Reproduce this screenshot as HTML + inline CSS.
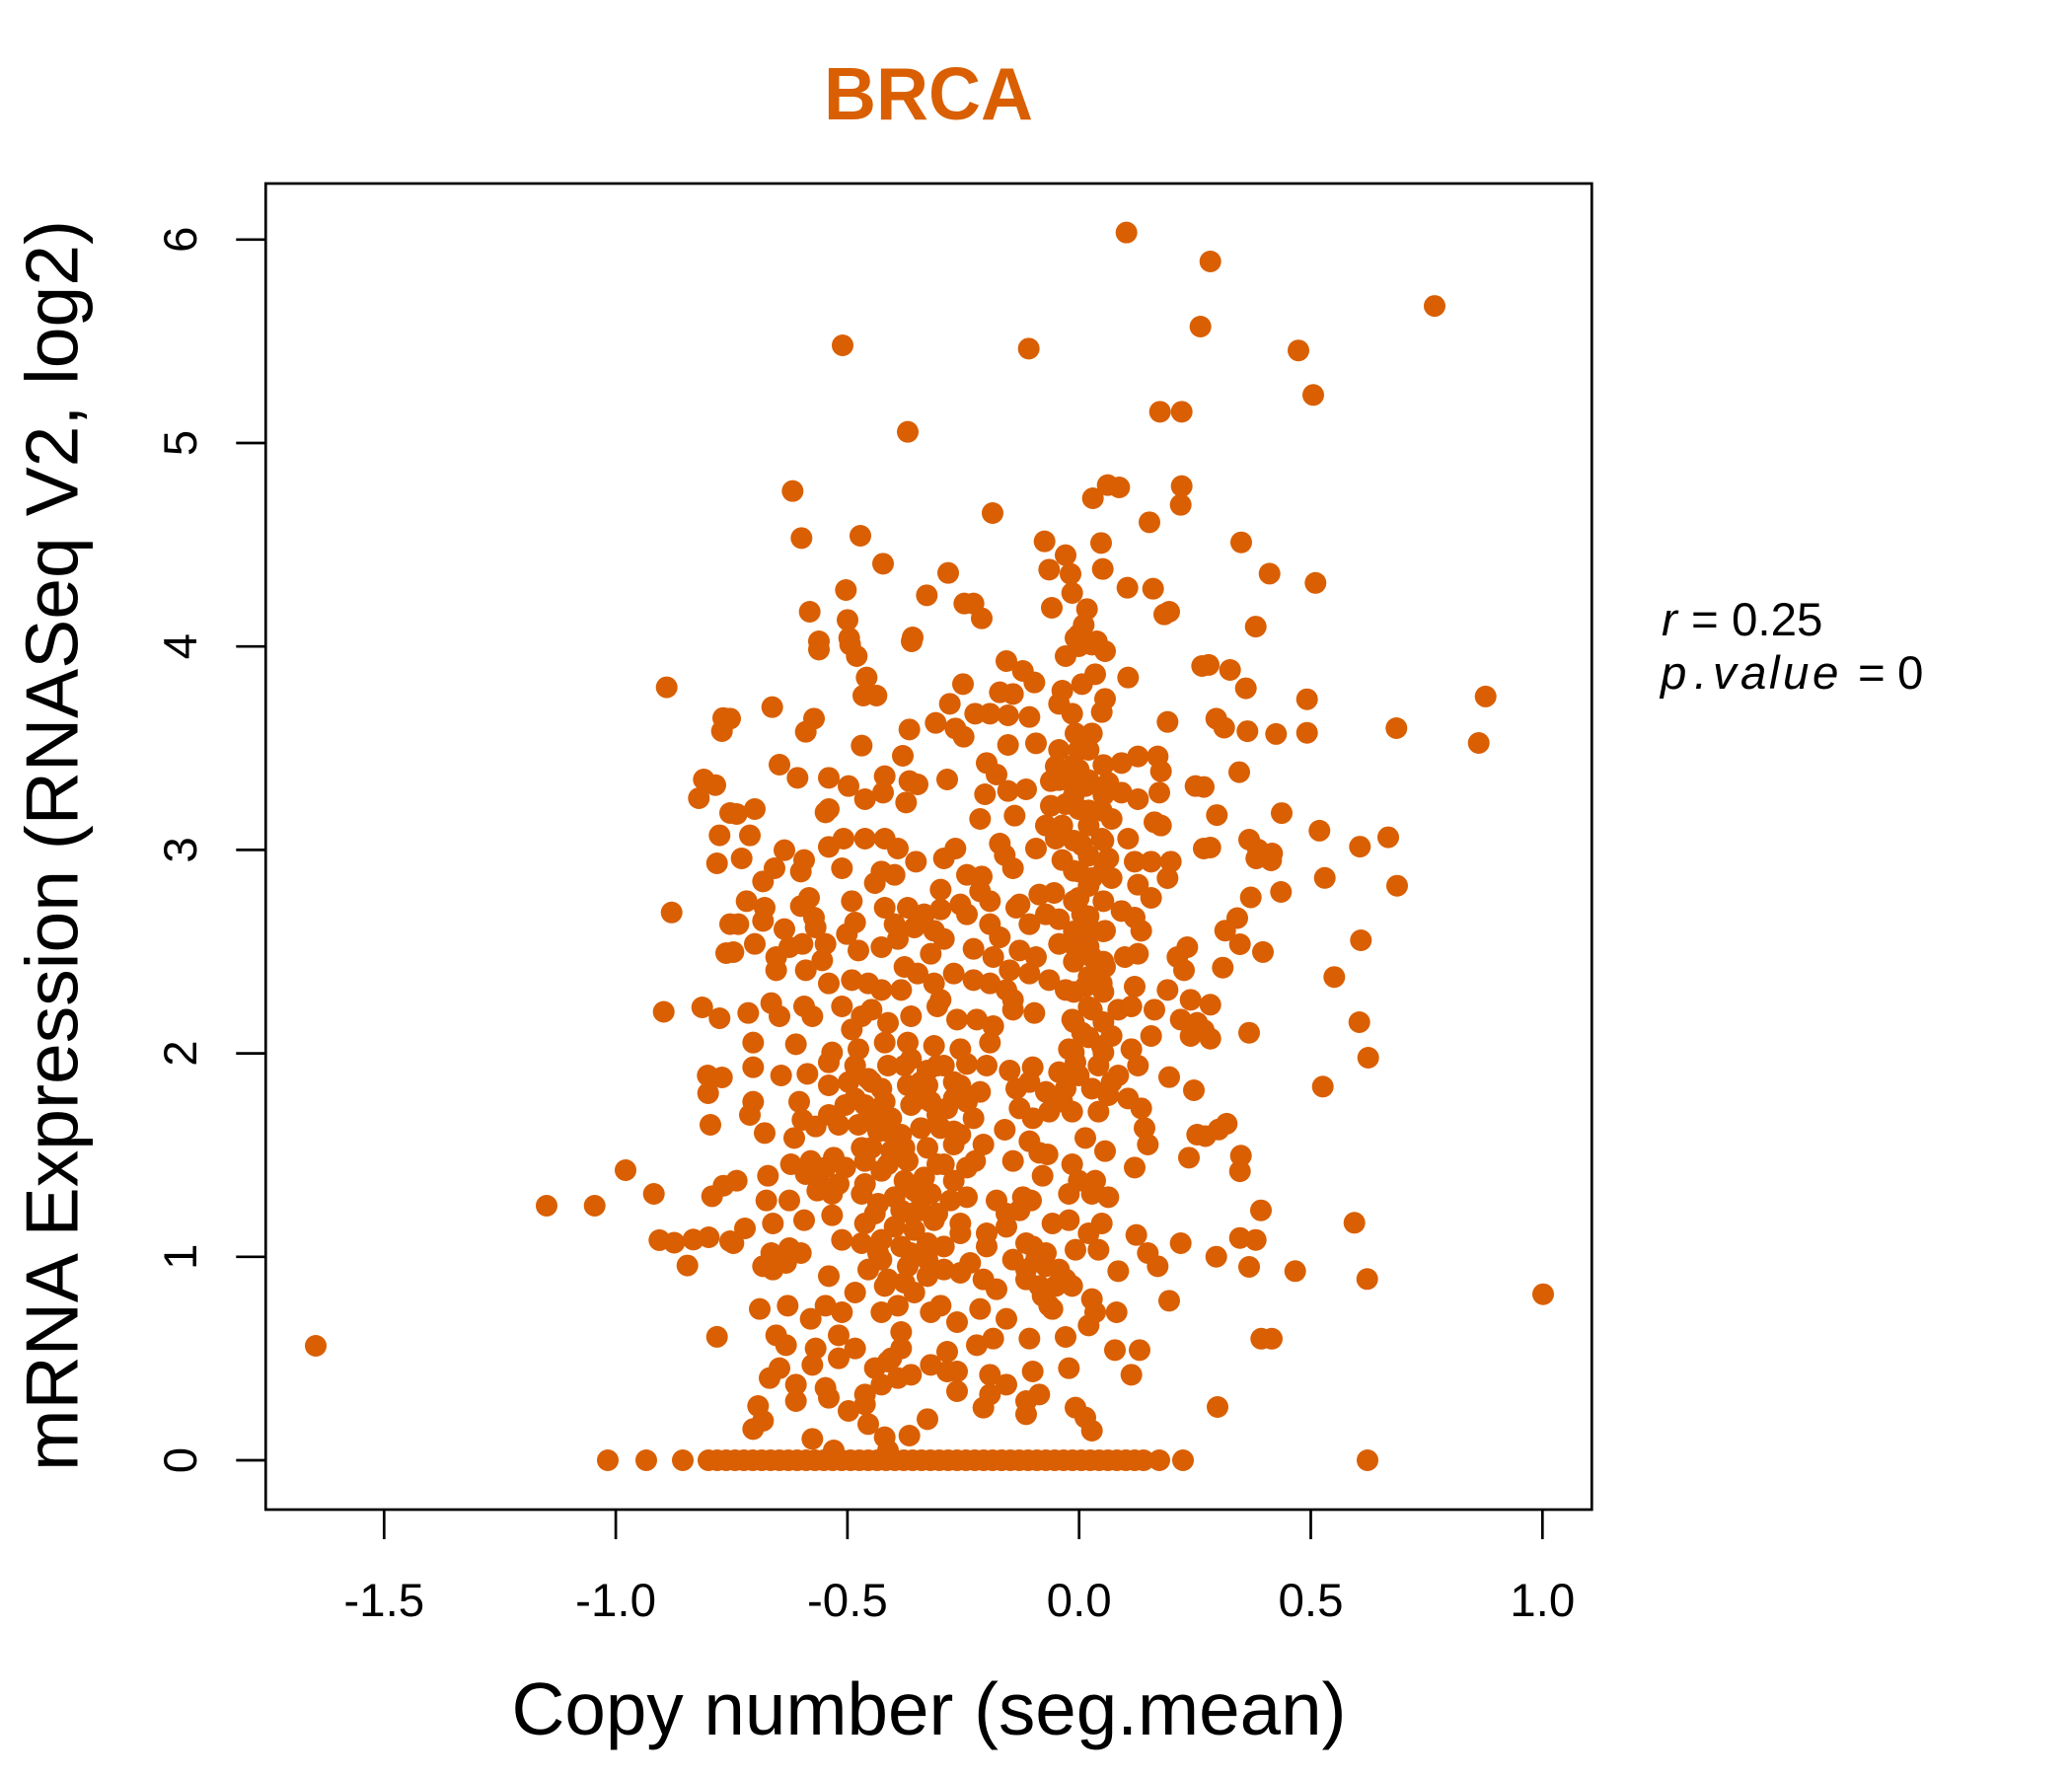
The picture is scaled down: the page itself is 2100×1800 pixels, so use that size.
<!DOCTYPE html>
<html>
<head>
<meta charset="utf-8">
<style>
html,body{margin:0;padding:0;background:#fff;}
svg{display:block;}
text{font-family:"Liberation Sans",Arial,Helvetica,sans-serif;}
</style>
</head>
<body>
<svg width="2100" height="1800" viewBox="0 0 2100 1800" xmlns="http://www.w3.org/2000/svg">
<rect x="0" y="0" width="2100" height="1800" fill="#fff"/>

<!-- Title -->
<text x="941" y="121" text-anchor="middle" font-size="75" font-weight="bold" fill="#D95F02" textLength="212" lengthAdjust="spacingAndGlyphs">BRCA</text>

<!-- Points -->
<g fill="#D95F02">
<!-- zero row -->
<circle cx="616" cy="1480" r="11"/><circle cx="655" cy="1480" r="11"/><circle cx="692" cy="1480" r="11"/>
<circle cx="718" cy="1480" r="11"/><circle cx="727" cy="1480" r="11"/><circle cx="736" cy="1480" r="11"/><circle cx="745" cy="1480" r="11"/><circle cx="754" cy="1480" r="11"/><circle cx="763" cy="1480" r="11"/><circle cx="772" cy="1480" r="11"/><circle cx="781" cy="1480" r="11"/><circle cx="790" cy="1480" r="11"/><circle cx="799" cy="1480" r="11"/><circle cx="808" cy="1480" r="11"/><circle cx="817" cy="1480" r="11"/><circle cx="826" cy="1480" r="11"/><circle cx="835" cy="1480" r="11"/><circle cx="844" cy="1480" r="11"/><circle cx="853" cy="1480" r="11"/><circle cx="862" cy="1480" r="11"/><circle cx="871" cy="1480" r="11"/><circle cx="880" cy="1480" r="11"/><circle cx="889" cy="1480" r="11"/><circle cx="898" cy="1480" r="11"/><circle cx="907" cy="1480" r="11"/><circle cx="916" cy="1480" r="11"/><circle cx="925" cy="1480" r="11"/><circle cx="934" cy="1480" r="11"/><circle cx="943" cy="1480" r="11"/><circle cx="952" cy="1480" r="11"/><circle cx="961" cy="1480" r="11"/><circle cx="970" cy="1480" r="11"/><circle cx="979" cy="1480" r="11"/><circle cx="988" cy="1480" r="11"/><circle cx="997" cy="1480" r="11"/><circle cx="1006" cy="1480" r="11"/><circle cx="1015" cy="1480" r="11"/><circle cx="1024" cy="1480" r="11"/><circle cx="1033" cy="1480" r="11"/><circle cx="1042" cy="1480" r="11"/><circle cx="1051" cy="1480" r="11"/><circle cx="1060" cy="1480" r="11"/><circle cx="1069" cy="1480" r="11"/><circle cx="1078" cy="1480" r="11"/><circle cx="1087" cy="1480" r="11"/><circle cx="1096" cy="1480" r="11"/><circle cx="1105" cy="1480" r="11"/><circle cx="1114" cy="1480" r="11"/><circle cx="1123" cy="1480" r="11"/><circle cx="1132" cy="1480" r="11"/><circle cx="1141" cy="1480" r="11"/><circle cx="1150" cy="1480" r="11"/><circle cx="1159" cy="1480" r="11"/><circle cx="1175" cy="1480" r="11"/><circle cx="1199" cy="1480" r="11"/><circle cx="1386" cy="1480" r="11"/>

<!-- isolated / left -->
<circle cx="320" cy="1364" r="11"/>
<circle cx="675.7" cy="696.6" r="11"/><circle cx="733" cy="727.7" r="11"/><circle cx="731.7" cy="741" r="11"/><circle cx="713.3" cy="790" r="11"/><circle cx="725" cy="795.7" r="11"/><circle cx="708.3" cy="809" r="11"/><circle cx="740" cy="824" r="11"/><circle cx="729.3" cy="846.6" r="11"/><circle cx="726.7" cy="875" r="11"/><circle cx="680.7" cy="924.8" r="11"/><circle cx="740" cy="936.6" r="11"/><circle cx="736" cy="966" r="11"/><circle cx="672.7" cy="1025.5" r="11"/><circle cx="711.7" cy="1021" r="11"/><circle cx="729.3" cy="1032" r="11"/><circle cx="717.3" cy="1090" r="11"/><circle cx="731.7" cy="1092" r="11"/><circle cx="717.7" cy="1108" r="11"/><circle cx="720" cy="1140" r="11"/><circle cx="634" cy="1186" r="11"/><circle cx="662.7" cy="1210" r="11"/><circle cx="554" cy="1222" r="11"/><circle cx="602.7" cy="1222" r="11"/><circle cx="721.7" cy="1212.4" r="11"/><circle cx="733.3" cy="1201.7" r="11"/><circle cx="668.3" cy="1256.9" r="11"/><circle cx="683.3" cy="1259.5" r="11"/><circle cx="702.7" cy="1256.3" r="11"/><circle cx="718.3" cy="1254" r="11"/><circle cx="740" cy="1258" r="11"/><circle cx="696.7" cy="1282.6" r="11"/><circle cx="726.7" cy="1354.9" r="11"/>

<!-- right upper -->
<circle cx="1226.7" cy="265" r="11"/><circle cx="1454" cy="310.1" r="11"/><circle cx="1316" cy="355.2" r="11"/><circle cx="1331" cy="400.3" r="11"/><circle cx="1258" cy="549.7" r="11"/><circle cx="1286.7" cy="581.4" r="11"/><circle cx="1333.3" cy="590.8" r="11"/><circle cx="1272.7" cy="635.1" r="11"/><circle cx="1225" cy="673.9" r="11"/><circle cx="1246.7" cy="679" r="11"/><circle cx="1262.7" cy="697.6" r="11"/><circle cx="1324.7" cy="708.7" r="11"/><circle cx="1505.7" cy="705.9" r="11"/><circle cx="1232.7" cy="728.4" r="11"/><circle cx="1240.7" cy="737.5" r="11"/><circle cx="1264.3" cy="741.1" r="11"/><circle cx="1293.3" cy="743.9" r="11"/><circle cx="1324.7" cy="742.7" r="11"/><circle cx="1415.3" cy="738" r="11"/><circle cx="1498.7" cy="753" r="11"/><circle cx="1256" cy="782.6" r="11"/><circle cx="1220" cy="797.6" r="11"/><circle cx="1233.3" cy="826.1" r="11"/><circle cx="1299" cy="824.1" r="11"/><circle cx="1337.3" cy="841.9" r="11"/><circle cx="1378.3" cy="858.1" r="11"/><circle cx="1407" cy="848.6" r="11"/><circle cx="1226.7" cy="859" r="11"/><circle cx="1266" cy="851" r="11"/><circle cx="1275" cy="861" r="11"/><circle cx="1289.3" cy="865" r="11"/>

<!-- right lower -->
<circle cx="1273.3" cy="870" r="11"/><circle cx="1288.3" cy="872" r="11"/><circle cx="1342.7" cy="889.8" r="11"/><circle cx="1416" cy="897.7" r="11"/><circle cx="1267.7" cy="909.5" r="11"/><circle cx="1298.3" cy="904" r="11"/><circle cx="1254" cy="930.5" r="11"/><circle cx="1241.7" cy="943.2" r="11"/><circle cx="1256.7" cy="957" r="11"/><circle cx="1280" cy="964.9" r="11"/><circle cx="1379.3" cy="953" r="11"/><circle cx="1239.3" cy="980.7" r="11"/><circle cx="1352.3" cy="990.2" r="11"/><circle cx="1226.7" cy="1018.3" r="11"/><circle cx="1226.7" cy="1052.7" r="11"/><circle cx="1220" cy="1044" r="11"/><circle cx="1266" cy="1046.7" r="11"/><circle cx="1377.7" cy="1036" r="11"/><circle cx="1386.7" cy="1072" r="11"/><circle cx="1340.7" cy="1101.3" r="11"/><circle cx="1243.3" cy="1138.9" r="11"/><circle cx="1235" cy="1144.8" r="11"/><circle cx="1221.7" cy="1151.5" r="11"/><circle cx="1257.7" cy="1171.3" r="11"/><circle cx="1256.7" cy="1187.1" r="11"/><circle cx="1278" cy="1226.7" r="11"/><circle cx="1372.7" cy="1239.3" r="11"/><circle cx="1256.7" cy="1254.7" r="11"/><circle cx="1272.7" cy="1256.7" r="11"/><circle cx="1232.7" cy="1273.7" r="11"/><circle cx="1266" cy="1284" r="11"/><circle cx="1312.7" cy="1288.3" r="11"/><circle cx="1385.7" cy="1296.3" r="11"/><circle cx="1564" cy="1311.7" r="11"/><circle cx="1278.3" cy="1356.8" r="11"/><circle cx="1289" cy="1356.8" r="11"/><circle cx="1234" cy="1426" r="11"/>

<!-- top middle (zoom 9 coords) -->
<g transform="translate(740 220) scale(0.333333)">
<circle cx="1205" cy="47" r="33"/><circle cx="342" cy="390" r="33"/><circle cx="908" cy="400" r="33"/><circle cx="1430" cy="333" r="33"/><circle cx="1307" cy="592" r="33"/><circle cx="1373" cy="592" r="33"/><circle cx="540" cy="653" r="33"/><circle cx="190" cy="833" r="33"/><circle cx="1103" cy="855" r="33"/><circle cx="1148" cy="815" r="33"/><circle cx="1183" cy="822" r="33"/><circle cx="1373" cy="818" r="33"/><circle cx="1370" cy="875" r="33"/><circle cx="798" cy="900" r="33"/><circle cx="1275" cy="928" r="33"/><circle cx="217" cy="976" r="33"/><circle cx="396" cy="969" r="33"/><circle cx="465" cy="1054" r="33"/><circle cx="956" cy="986" r="33"/><circle cx="1128" cy="991" r="33"/><circle cx="1020" cy="1028" r="33"/><circle cx="970" cy="1072" r="33"/><circle cx="1035" cy="1085" r="33"/><circle cx="1133" cy="1070" r="33"/><circle cx="1208" cy="1127" r="33"/><circle cx="1286" cy="1130" r="33"/><circle cx="663" cy="1082" r="33"/><circle cx="598" cy="1150" r="33"/><circle cx="352" cy="1134" r="33"/><circle cx="242" cy="1200" r="33"/><circle cx="357" cy="1225" r="33"/><circle cx="712" cy="1175" r="33"/><circle cx="740" cy="1175" r="33"/><circle cx="765" cy="1220" r="33"/><circle cx="1040" cy="1143" r="33"/><circle cx="978" cy="1188" r="33"/><circle cx="1085" cy="1192" r="33"/><circle cx="1075" cy="1240" r="33"/><circle cx="1060" cy="1270" r="33"/><circle cx="1335" cy="1200" r="33"/><circle cx="1320" cy="1208" r="33"/><circle cx="270" cy="1290" r="33"/><circle cx="362" cy="1280" r="33"/><circle cx="555" cy="1278" r="33"/><circle cx="1050" cy="1280" r="33"/><circle cx="1115" cy="1290" r="33"/>
</g>

<!-- core upper (zoom 7 coords) -->
<g transform="translate(740 650) scale(0.333333)">
<circle cx="270" cy="25" r="33"/><circle cx="365" cy="10" r="33"/><circle cx="385" cy="45" r="33"/><circle cx="552" cy="0" r="33"/><circle cx="840" cy="60" r="33"/><circle cx="1020" cy="45" r="33"/><circle cx="1060" cy="15" r="33"/><circle cx="1140" cy="30" r="33"/><circle cx="1100" cy="10" r="33"/><circle cx="1435" cy="75" r="33"/>
<circle cx="415" cy="110" r="33"/><circle cx="405" cy="165" r="33"/><circle cx="445" cy="165" r="33"/><circle cx="708" cy="130" r="33"/><circle cx="890" cy="90" r="33"/><circle cx="925" cy="125" r="33"/><circle cx="1110" cy="100" r="33"/><circle cx="1210" cy="110" r="33"/><circle cx="1010" cy="150" r="33"/><circle cx="1000" cy="190" r="33"/><circle cx="1070" cy="130" r="33"/><circle cx="668" cy="190" r="33"/><circle cx="820" cy="155" r="33"/><circle cx="860" cy="160" r="33"/><circle cx="1140" cy="175" r="33"/>
<circle cx="128" cy="200" r="33"/><circle cx="255" cy="235" r="33"/><circle cx="230" cy="275" r="33"/><circle cx="0" cy="235" r="33"/><circle cx="545" cy="268" r="33"/><circle cx="625" cy="248" r="33"/><circle cx="710" cy="290" r="33"/><circle cx="685" cy="265" r="33"/><circle cx="745" cy="220" r="33"/><circle cx="790" cy="220" r="33"/><circle cx="845" cy="225" r="33"/><circle cx="910" cy="230" r="33"/><circle cx="930" cy="310" r="33"/><circle cx="1040" cy="220" r="33"/><circle cx="1050" cy="280" r="33"/><circle cx="1100" cy="280" r="33"/><circle cx="1130" cy="215" r="33"/><circle cx="1330" cy="245" r="33"/><circle cx="845" cy="315" r="33"/>
<circle cx="400" cy="317" r="33"/><circle cx="525" cy="348" r="33"/><circle cx="150" cy="375" r="33"/><circle cx="780" cy="370" r="33"/><circle cx="1060" cy="330" r="33"/><circle cx="1060" cy="390" r="33"/><circle cx="990" cy="380" r="33"/><circle cx="1190" cy="370" r="33"/><circle cx="1240" cy="350" r="33"/><circle cx="1300" cy="350" r="33"/><circle cx="1310" cy="395" r="33"/>
<circle cx="205" cy="415" r="33"/><circle cx="300" cy="415" r="33"/><circle cx="360" cy="440" r="33"/><circle cx="410" cy="480" r="33"/><circle cx="470" cy="410" r="33"/><circle cx="465" cy="460" r="33"/><circle cx="545" cy="425" r="33"/><circle cx="570" cy="435" r="33"/><circle cx="535" cy="490" r="33"/><circle cx="660" cy="420" r="33"/><circle cx="810" cy="405" r="33"/><circle cx="775" cy="465" r="33"/><circle cx="845" cy="455" r="33"/><circle cx="900" cy="450" r="33"/><circle cx="975" cy="425" r="33"/><circle cx="1020" cy="420" r="33"/><circle cx="1080" cy="440" r="33"/><circle cx="1150" cy="430" r="33"/><circle cx="1190" cy="460" r="33"/><circle cx="1240" cy="480" r="33"/><circle cx="1305" cy="460" r="33"/><circle cx="1415" cy="440" r="33"/>
<circle cx="75" cy="510" r="33"/><circle cx="20" cy="525" r="33"/><circle cx="300" cy="510" r="33"/><circle cx="290" cy="520" r="33"/><circle cx="760" cy="540" r="33"/><circle cx="865" cy="530" r="33"/><circle cx="975" cy="500" r="33"/><circle cx="1020" cy="495" r="33"/><circle cx="1060" cy="510" r="33"/><circle cx="1130" cy="515" r="33"/><circle cx="1160" cy="540" r="33"/><circle cx="960" cy="560" r="33"/><circle cx="1010" cy="560" r="33"/><circle cx="1090" cy="560" r="33"/><circle cx="1290" cy="550" r="33"/><circle cx="1310" cy="560" r="33"/><circle cx="60" cy="590" r="33"/>
<circle cx="35" cy="660" r="33"/><circle cx="165" cy="635" r="33"/><circle cx="135" cy="690" r="33"/><circle cx="225" cy="665" r="33"/><circle cx="215" cy="700" r="33"/><circle cx="300" cy="625" r="33"/><circle cx="345" cy="600" r="33"/><circle cx="410" cy="600" r="33"/><circle cx="470" cy="600" r="33"/><circle cx="510" cy="630" r="33"/><circle cx="565" cy="670" r="33"/><circle cx="460" cy="700" r="33"/><circle cx="340" cy="690" r="33"/><circle cx="650" cy="660" r="33"/><circle cx="685" cy="630" r="33"/><circle cx="820" cy="615" r="33"/><circle cx="835" cy="650" r="33"/><circle cx="860" cy="690" r="33"/><circle cx="930" cy="630" r="33"/><circle cx="990" cy="600" r="33"/><circle cx="1010" cy="665" r="33"/><circle cx="1070" cy="620" r="33"/><circle cx="1130" cy="600" r="33"/><circle cx="1210" cy="600" r="33"/><circle cx="1150" cy="660" r="33"/><circle cx="1230" cy="670" r="33"/><circle cx="1280" cy="670" r="33"/><circle cx="1340" cy="670" r="33"/><circle cx="1440" cy="630" r="33"/>
<circle cx="100" cy="730" r="33"/><circle cx="50" cy="790" r="33"/><circle cx="105" cy="810" r="33"/><circle cx="240" cy="780" r="33"/><circle cx="215" cy="805" r="33"/><circle cx="370" cy="790" r="33"/><circle cx="440" cy="735" r="33"/><circle cx="500" cy="710" r="33"/><circle cx="640" cy="755" r="33"/><circle cx="720" cy="710" r="33"/><circle cx="765" cy="715" r="33"/><circle cx="760" cy="760" r="33"/><circle cx="700" cy="800" r="33"/><circle cx="790" cy="790" r="33"/><circle cx="880" cy="800" r="33"/><circle cx="940" cy="770" r="33"/><circle cx="985" cy="765" r="33"/><circle cx="1060" cy="700" r="33"/><circle cx="1100" cy="720" r="33"/><circle cx="1160" cy="720" r="33"/><circle cx="1240" cy="740" r="33"/><circle cx="1280" cy="780" r="33"/><circle cx="1330" cy="720" r="33"/><circle cx="1060" cy="780" r="33"/>
<circle cx="25" cy="860" r="33"/><circle cx="100" cy="850" r="33"/><circle cx="165" cy="875" r="33"/><circle cx="255" cy="840" r="33"/><circle cx="260" cy="870" r="33"/><circle cx="380" cy="855" r="33"/><circle cx="355" cy="890" r="33"/><circle cx="470" cy="810" r="33"/><circle cx="540" cy="810" r="33"/><circle cx="590" cy="830" r="33"/><circle cx="640" cy="815" r="33"/><circle cx="500" cy="860" r="33"/><circle cx="560" cy="870" r="33"/><circle cx="620" cy="880" r="33"/><circle cx="720" cy="830" r="33"/><circle cx="790" cy="860" r="33"/><circle cx="820" cy="900" r="33"/><circle cx="870" cy="810" r="33"/><circle cx="910" cy="860" r="33"/><circle cx="960" cy="830" r="33"/><circle cx="1000" cy="845" r="33"/><circle cx="1070" cy="830" r="33"/><circle cx="1100" cy="880" r="33"/><circle cx="1190" cy="820" r="33"/><circle cx="1230" cy="840" r="33"/><circle cx="1250" cy="880" r="33"/><circle cx="1140" cy="880" r="33"/>
<circle cx="10" cy="945" r="33"/><circle cx="75" cy="920" r="33"/><circle cx="140" cy="960" r="33"/><circle cx="180" cy="930" r="33"/><circle cx="220" cy="920" r="33"/><circle cx="290" cy="920" r="33"/><circle cx="280" cy="970" r="33"/><circle cx="390" cy="940" r="33"/><circle cx="460" cy="930" r="33"/><circle cx="510" cy="905" r="33"/><circle cx="650" cy="905" r="33"/><circle cx="610" cy="950" r="33"/><circle cx="530" cy="990" r="33"/><circle cx="740" cy="935" r="33"/><circle cx="800" cy="960" r="33"/><circle cx="880" cy="940" r="33"/><circle cx="930" cy="960" r="33"/><circle cx="1000" cy="920" r="33"/><circle cx="1050" cy="930" r="33"/><circle cx="1100" cy="960" r="33"/><circle cx="1140" cy="990" r="33"/><circle cx="1200" cy="960" r="33"/><circle cx="1240" cy="950" r="33"/><circle cx="1360" cy="960" r="33"/><circle cx="1390" cy="930" r="33"/><circle cx="1380" cy="1000" r="33"/>
<circle cx="140" cy="1000" r="33"/><circle cx="230" cy="1000" r="33"/><circle cx="300" cy="1040" r="33"/><circle cx="370" cy="1030" r="33"/><circle cx="420" cy="1040" r="33"/><circle cx="460" cy="1060" r="33"/><circle cx="520" cy="1060" r="33"/><circle cx="570" cy="1010" r="33"/><circle cx="620" cy="1040" r="33"/><circle cx="680" cy="1010" r="33"/><circle cx="740" cy="1030" r="33"/><circle cx="790" cy="1040" r="33"/><circle cx="850" cy="1000" r="33"/><circle cx="840" cy="1060" r="33"/><circle cx="910" cy="1010" r="33"/><circle cx="970" cy="1030" r="33"/><circle cx="1020" cy="1060" r="33"/><circle cx="1080" cy="1050" r="33"/><circle cx="1130" cy="1040" r="33"/><circle cx="1230" cy="1050" r="33"/><circle cx="1330" cy="1060" r="33"/><circle cx="1400" cy="1090" r="33"/><circle cx="860" cy="1090" r="33"/><circle cx="640" cy="1090" r="33"/>
<circle cx="55" cy="1130" r="33"/><circle cx="125" cy="1100" r="33"/><circle cx="150" cy="1140" r="33"/><circle cx="225" cy="1110" r="33"/><circle cx="250" cy="1140" r="33"/><circle cx="340" cy="1110" r="33"/><circle cx="400" cy="1140" r="33"/><circle cx="430" cy="1120" r="33"/><circle cx="370" cy="1180" r="33"/><circle cx="480" cy="1160" r="33"/><circle cx="550" cy="1140" r="33"/><circle cx="630" cy="1110" r="33"/><circle cx="690" cy="1150" r="33"/><circle cx="750" cy="1150" r="33"/><circle cx="800" cy="1170" r="33"/><circle cx="860" cy="1120" r="33"/><circle cx="925" cy="1130" r="33"/><circle cx="1040" cy="1150" r="33"/><circle cx="1100" cy="1120" r="33"/><circle cx="1180" cy="1120" r="33"/><circle cx="1220" cy="1110" r="33"/><circle cx="1290" cy="1120" r="33"/><circle cx="1370" cy="1150" r="33"/><circle cx="1420" cy="1160" r="33"/><circle cx="1070" cy="1190" r="33"/><circle cx="1160" cy="1200" r="33"/><circle cx="1280" cy="1200" r="33"/>
<circle cx="70" cy="1220" r="33"/><circle cx="200" cy="1225" r="33"/><circle cx="310" cy="1250" r="33"/><circle cx="390" cy="1240" r="33"/><circle cx="470" cy="1220" r="33"/><circle cx="540" cy="1220" r="33"/><circle cx="620" cy="1230" r="33"/><circle cx="700" cy="1240" r="33"/><circle cx="790" cy="1220" r="33"/><circle cx="1030" cy="1240" r="33"/><circle cx="1130" cy="1230" r="33"/><circle cx="1220" cy="1240" r="33"/><circle cx="1400" cy="1200" r="33"/>
<!-- vertical band fill near x=0 (thinned) -->
<circle cx="1000" cy="330" r="33"/><circle cx="1090" cy="330" r="33"/>
<circle cx="1045" cy="376" r="33"/><circle cx="1135" cy="376" r="33"/>
<circle cx="1000" cy="422" r="33"/><circle cx="1090" cy="422" r="33"/>
<circle cx="1045" cy="468" r="33"/><circle cx="1135" cy="468" r="33"/>
<circle cx="1090" cy="514" r="33"/>
<circle cx="1045" cy="606" r="33"/><circle cx="1135" cy="606" r="33"/>
<circle cx="1090" cy="652" r="33"/>
<circle cx="1045" cy="698" r="33"/><circle cx="1135" cy="698" r="33"/>
<circle cx="1090" cy="744" r="33"/>
<circle cx="1045" cy="790" r="33"/><circle cx="1135" cy="790" r="33"/>
<circle cx="1090" cy="836" r="33"/>
<circle cx="1045" cy="882" r="33"/><circle cx="1135" cy="882" r="33"/>
<circle cx="1090" cy="928" r="33"/>
<circle cx="1045" cy="974" r="33"/><circle cx="1135" cy="974" r="33"/>
<circle cx="1090" cy="1020" r="33"/>
<circle cx="1045" cy="1066" r="33"/><circle cx="1135" cy="1066" r="33"/>
<circle cx="1090" cy="1112" r="33"/>
<circle cx="1045" cy="1158" r="33"/><circle cx="1135" cy="1158" r="33"/>
<circle cx="1090" cy="1204" r="33"/>
<circle cx="1045" cy="1250" r="33"/><circle cx="1135" cy="1250" r="33"/>
</g>

<!-- core lower (zoom 8 coords) -->
<g transform="translate(740 1070) scale(0.333333)">
<circle cx="70" cy="35" r="33"/><circle cx="155" cy="60" r="33"/><circle cx="235" cy="55" r="33"/><circle cx="300" cy="20" r="33"/><circle cx="300" cy="90" r="33"/><circle cx="380" cy="30" r="33"/><circle cx="420" cy="70" r="33"/><circle cx="480" cy="30" r="33"/><circle cx="550" cy="10" r="33"/><circle cx="600" cy="45" r="33"/><circle cx="650" cy="30" r="33"/><circle cx="720" cy="25" r="33"/><circle cx="780" cy="30" r="33"/><circle cx="850" cy="45" r="33"/><circle cx="920" cy="35" r="33"/><circle cx="1000" cy="50" r="33"/><circle cx="1050" cy="20" r="33"/><circle cx="1120" cy="30" r="33"/><circle cx="1180" cy="60" r="33"/><circle cx="1240" cy="30" r="33"/><circle cx="1335" cy="65" r="33"/><circle cx="1410" cy="105" r="33"/><circle cx="360" cy="80" r="33"/><circle cx="460" cy="100" r="33"/><circle cx="540" cy="90" r="33"/><circle cx="600" cy="90" r="33"/><circle cx="700" cy="90" r="33"/><circle cx="760" cy="110" r="33"/><circle cx="870" cy="100" r="33"/><circle cx="960" cy="110" r="33"/><circle cx="1020" cy="100" r="33"/><circle cx="1100" cy="100" r="33"/><circle cx="1150" cy="120" r="33"/>
<circle cx="70" cy="140" r="33"/><circle cx="60" cy="180" r="33"/><circle cx="210" cy="140" r="33"/><circle cx="220" cy="195" r="33"/><circle cx="300" cy="180" r="33"/><circle cx="350" cy="150" r="33"/><circle cx="410" cy="150" r="33"/><circle cx="470" cy="140" r="33"/><circle cx="490" cy="190" r="33"/><circle cx="550" cy="150" r="33"/><circle cx="610" cy="140" r="33"/><circle cx="660" cy="160" r="33"/><circle cx="720" cy="140" r="33"/><circle cx="740" cy="190" r="33"/><circle cx="880" cy="160" r="33"/><circle cx="920" cy="190" r="33"/><circle cx="970" cy="170" r="33"/><circle cx="1040" cy="170" r="33"/><circle cx="1120" cy="170" r="33"/><circle cx="1210" cy="130" r="33"/><circle cx="1250" cy="160" r="33"/>
<circle cx="105" cy="235" r="33"/><circle cx="195" cy="250" r="33"/><circle cx="260" cy="215" r="33"/><circle cx="330" cy="210" r="33"/><circle cx="390" cy="210" r="33"/><circle cx="450" cy="230" r="33"/><circle cx="520" cy="240" r="33"/><circle cx="580" cy="220" r="33"/><circle cx="640" cy="220" r="33"/><circle cx="700" cy="240" r="33"/><circle cx="770" cy="270" r="33"/><circle cx="835" cy="225" r="33"/><circle cx="910" cy="260" r="33"/><circle cx="940" cy="295" r="33"/><circle cx="1080" cy="250" r="33"/><circle cx="1140" cy="290" r="33"/><circle cx="1270" cy="270" r="33"/><circle cx="1260" cy="220" r="33"/><circle cx="1420" cy="240" r="33"/><circle cx="600" cy="280" r="33"/><circle cx="680" cy="270" r="33"/><circle cx="400" cy="280" r="33"/><circle cx="490" cy="290" r="33"/>
<circle cx="20" cy="380" r="33"/><circle cx="115" cy="365" r="33"/><circle cx="185" cy="330" r="33"/><circle cx="245" cy="320" r="33"/><circle cx="290" cy="340" r="33"/><circle cx="315" cy="310" r="33"/><circle cx="350" cy="340" r="33"/><circle cx="410" cy="320" r="33"/><circle cx="460" cy="350" r="33"/><circle cx="540" cy="320" r="33"/><circle cx="590" cy="370" r="33"/><circle cx="650" cy="330" r="33"/><circle cx="720" cy="340" r="33"/><circle cx="745" cy="320" r="33"/><circle cx="860" cy="320" r="33"/><circle cx="950" cy="365" r="33"/><circle cx="965" cy="300" r="33"/><circle cx="1040" cy="330" r="33"/><circle cx="1060" cy="380" r="33"/><circle cx="1110" cy="380" r="33"/><circle cx="1230" cy="340" r="33"/><circle cx="1395" cy="310" r="33"/><circle cx="270" cy="380" r="33"/><circle cx="410" cy="390" r="33"/>
<circle cx="110" cy="440" r="33"/><circle cx="180" cy="440" r="33"/><circle cx="265" cy="410" r="33"/><circle cx="310" cy="420" r="33"/><circle cx="400" cy="420" r="33"/><circle cx="450" cy="450" r="33"/><circle cx="500" cy="430" r="33"/><circle cx="560" cy="410" r="33"/><circle cx="610" cy="420" r="33"/><circle cx="670" cy="440" r="33"/><circle cx="720" cy="430" r="33"/><circle cx="810" cy="440" r="33"/><circle cx="890" cy="430" r="33"/><circle cx="915" cy="440" r="33"/><circle cx="1030" cy="420" r="33"/><circle cx="1100" cy="420" r="33"/><circle cx="1150" cy="430" r="33"/><circle cx="130" cy="510" r="33"/><circle cx="225" cy="500" r="33"/><circle cx="310" cy="485" r="33"/><circle cx="440" cy="480" r="33"/><circle cx="520" cy="470" r="33"/><circle cx="580" cy="470" r="33"/><circle cx="630" cy="480" r="33"/><circle cx="700" cy="510" r="33"/><circle cx="840" cy="480" r="33"/><circle cx="880" cy="470" r="33"/>
<circle cx="45" cy="525" r="33"/><circle cx="10" cy="570" r="33"/><circle cx="125" cy="600" r="33"/><circle cx="180" cy="585" r="33"/><circle cx="215" cy="600" r="33"/><circle cx="340" cy="560" r="33"/><circle cx="410" cy="510" r="33"/><circle cx="500" cy="520" r="33"/><circle cx="560" cy="530" r="33"/><circle cx="620" cy="500" r="33"/><circle cx="700" cy="540" r="33"/><circle cx="780" cy="540" r="33"/><circle cx="840" cy="520" r="33"/><circle cx="980" cy="510" r="33"/><circle cx="1030" cy="500" r="33"/><circle cx="1130" cy="510" r="33"/><circle cx="1090" cy="540" r="33"/><circle cx="1235" cy="545" r="33"/><circle cx="1370" cy="570" r="33"/><circle cx="400" cy="570" r="33"/><circle cx="460" cy="560" r="33"/><circle cx="520" cy="580" r="33"/><circle cx="600" cy="570" r="33"/><circle cx="650" cy="580" r="33"/><circle cx="920" cy="580" r="33"/><circle cx="960" cy="600" r="33"/><circle cx="1050" cy="590" r="33"/><circle cx="1120" cy="590" r="33"/><circle cx="1270" cy="600" r="33"/><circle cx="780" cy="580" r="33"/><circle cx="900" cy="570" r="33"/>
<circle cx="100" cy="640" r="33"/><circle cx="130" cy="650" r="33"/><circle cx="170" cy="630" r="33"/><circle cx="300" cy="670" r="33"/><circle cx="420" cy="650" r="33"/><circle cx="460" cy="620" r="33"/><circle cx="480" cy="680" r="33"/><circle cx="540" cy="640" r="33"/><circle cx="600" cy="620" r="33"/><circle cx="650" cy="650" r="33"/><circle cx="700" cy="660" r="33"/><circle cx="730" cy="630" r="33"/><circle cx="770" cy="680" r="33"/><circle cx="860" cy="620" r="33"/><circle cx="900" cy="650" r="33"/><circle cx="960" cy="640" r="33"/><circle cx="1000" cy="650" r="33"/><circle cx="1020" cy="680" r="33"/><circle cx="1180" cy="655" r="33"/><circle cx="1300" cy="640" r="33"/><circle cx="470" cy="700" r="33"/><circle cx="530" cy="690" r="33"/><circle cx="560" cy="720" r="33"/><circle cx="900" cy="680" r="33"/><circle cx="940" cy="700" r="33"/>
<circle cx="90" cy="770" r="33"/><circle cx="175" cy="760" r="33"/><circle cx="245" cy="800" r="33"/><circle cx="290" cy="760" r="33"/><circle cx="340" cy="780" r="33"/><circle cx="380" cy="720" r="33"/><circle cx="460" cy="780" r="33"/><circle cx="510" cy="760" r="33"/><circle cx="610" cy="780" r="33"/><circle cx="640" cy="760" r="33"/><circle cx="690" cy="810" r="33"/><circle cx="760" cy="770" r="33"/><circle cx="810" cy="710" r="33"/><circle cx="840" cy="800" r="33"/><circle cx="950" cy="730" r="33"/><circle cx="980" cy="770" r="33"/><circle cx="1040" cy="700" r="33"/><circle cx="1100" cy="740" r="33"/><circle cx="1110" cy="780" r="33"/><circle cx="1175" cy="780" r="33"/><circle cx="1335" cy="745" r="33"/>
<circle cx="140" cy="850" r="33"/><circle cx="170" cy="880" r="33"/><circle cx="260" cy="890" r="33"/><circle cx="330" cy="850" r="33"/><circle cx="380" cy="890" r="33"/><circle cx="330" cy="920" r="33"/><circle cx="520" cy="840" r="33"/><circle cx="520" cy="890" r="33"/><circle cx="490" cy="920" r="33"/><circle cx="660" cy="900" r="33"/><circle cx="750" cy="880" r="33"/><circle cx="800" cy="860" r="33"/><circle cx="910" cy="860" r="33"/><circle cx="1020" cy="855" r="33"/><circle cx="1090" cy="820" r="33"/><circle cx="1170" cy="895" r="33"/><circle cx="1245" cy="895" r="33"/>
<circle cx="150" cy="950" r="33"/><circle cx="120" cy="980" r="33"/><circle cx="250" cy="940" r="33"/><circle cx="440" cy="950" r="33"/><circle cx="480" cy="930" r="33"/><circle cx="510" cy="980" r="33"/><circle cx="550" cy="970" r="33"/><circle cx="610" cy="940" r="33"/><circle cx="660" cy="960" r="33"/><circle cx="690" cy="960" r="33"/><circle cx="790" cy="970" r="33"/><circle cx="840" cy="1000" r="33"/><circle cx="920" cy="960" r="33"/><circle cx="1030" cy="950" r="33"/><circle cx="1220" cy="970" r="33"/><circle cx="200" cy="1000" r="33"/>
<circle cx="200" cy="1050" r="33"/><circle cx="290" cy="1010" r="33"/><circle cx="300" cy="1040" r="33"/><circle cx="410" cy="1030" r="33"/><circle cx="460" cy="1000" r="33"/><circle cx="410" cy="1060" r="33"/><circle cx="360" cy="1080" r="33"/><circle cx="690" cy="1020" r="33"/><circle cx="790" cy="1030" r="33"/><circle cx="770" cy="1070" r="33"/><circle cx="900" cy="1050" r="33"/><circle cx="940" cy="1030" r="33"/><circle cx="900" cy="1090" r="33"/><circle cx="1050" cy="1070" r="33"/><circle cx="1080" cy="1100" r="33"/><circle cx="85" cy="1065" r="33"/><circle cx="100" cy="1110" r="33"/><circle cx="70" cy="1135" r="33"/>
<circle cx="250" cy="1165" r="33"/><circle cx="420" cy="1120" r="33"/><circle cx="470" cy="1160" r="33"/><circle cx="545" cy="1155" r="33"/><circle cx="600" cy="1105" r="33"/><circle cx="1100" cy="1140" r="33"/><circle cx="315" cy="1200" r="33"/><circle cx="480" cy="1200" r="33"/>
<!-- fill A (thinned) -->
<circle cx="530" cy="30" r="33"/><circle cx="630" cy="30" r="33"/>
<circle cx="430" cy="80" r="33"/><circle cx="580" cy="80" r="33"/><circle cx="680" cy="80" r="33"/>
<circle cx="380" cy="130" r="33"/><circle cx="580" cy="130" r="33"/><circle cx="680" cy="130" r="33"/>
<circle cx="430" cy="180" r="33"/><circle cx="630" cy="180" r="33"/>
<circle cx="480" cy="230" r="33"/><circle cx="680" cy="230" r="33"/>
<circle cx="430" cy="280" r="33"/><circle cx="530" cy="280" r="33"/>
<circle cx="480" cy="330" r="33"/><circle cx="630" cy="330" r="33"/>
<circle cx="530" cy="380" r="33"/><circle cx="680" cy="380" r="33"/>
<circle cx="580" cy="430" r="33"/>
<!-- fill B (thinned) -->
<circle cx="550" cy="480" r="33"/><circle cx="450" cy="600" r="33"/><circle cx="550" cy="600" r="33"/><circle cx="600" cy="670" r="33"/>
<!-- fill C -->
<circle cx="910" cy="80" r="33"/><circle cx="1060" cy="60" r="33"/><circle cx="1160" cy="80" r="33"/>
<circle cx="1010" cy="140" r="33"/>
<!-- fill D diagonal -->
<circle cx="930" cy="620" r="33"/><circle cx="990" cy="700" r="33"/><circle cx="970" cy="760" r="33"/>
<!-- fill E -->
<circle cx="230" cy="360" r="33"/><circle cx="330" cy="390" r="33"/>
</g>
</g>

<!-- Axes box -->
<rect x="269.3" y="186" width="1344" height="1344" fill="none" stroke="#000" stroke-width="2.7"/>

<!-- X ticks -->
<g stroke="#000" stroke-width="2.7">
<line x1="389.3" y1="1530" x2="389.3" y2="1560"/>
<line x1="624.1" y1="1530" x2="624.1" y2="1560"/>
<line x1="858.9" y1="1530" x2="858.9" y2="1560"/>
<line x1="1093.7" y1="1530" x2="1093.7" y2="1560"/>
<line x1="1328.5" y1="1530" x2="1328.5" y2="1560"/>
<line x1="1563.3" y1="1530" x2="1563.3" y2="1560"/>
<!-- Y ticks -->
<line x1="239.3" y1="1480" x2="269.3" y2="1480"/>
<line x1="239.3" y1="1273.8" x2="269.3" y2="1273.8"/>
<line x1="239.3" y1="1067.6" x2="269.3" y2="1067.6"/>
<line x1="239.3" y1="861.4" x2="269.3" y2="861.4"/>
<line x1="239.3" y1="655.2" x2="269.3" y2="655.2"/>
<line x1="239.3" y1="449" x2="269.3" y2="449"/>
<line x1="239.3" y1="242.8" x2="269.3" y2="242.8"/>
</g>

<!-- X tick labels -->
<g font-size="47.5" text-anchor="middle" fill="#000">
<text x="389.3" y="1638">-1.5</text>
<text x="624.1" y="1638">-1.0</text>
<text x="858.9" y="1638">-0.5</text>
<text x="1093.7" y="1638">0.0</text>
<text x="1328.5" y="1638">0.5</text>
<text x="1563.3" y="1638">1.0</text>
</g>

<!-- Y tick labels (rotated) -->
<g font-size="47.5" text-anchor="middle" fill="#000">
<text transform="translate(199 1480) rotate(-90)">0</text>
<text transform="translate(199 1273.8) rotate(-90)">1</text>
<text transform="translate(199 1067.6) rotate(-90)">2</text>
<text transform="translate(199 861.4) rotate(-90)">3</text>
<text transform="translate(199 655.2) rotate(-90)">4</text>
<text transform="translate(199 449) rotate(-90)">5</text>
<text transform="translate(199 242.8) rotate(-90)">6</text>
</g>

<!-- Axis labels -->
<text x="941.5" y="1758" font-size="75" text-anchor="middle" fill="#000" textLength="846" lengthAdjust="spacingAndGlyphs">Copy number (seg.mean)</text>
<text transform="translate(78.5 857) rotate(-90)" font-size="75" text-anchor="middle" fill="#000" textLength="1268" lengthAdjust="spacingAndGlyphs">mRNA Expression (RNASeq V2, log2)</text>

<!-- Annotation -->
<g font-size="47.5" fill="#000">
<text x="1684" y="644" font-style="italic">r</text>
<text x="1714" y="644">=</text>
<text x="1755" y="644">0.25</text>
<text y="698" font-style="italic" x="1683 1717 1736 1764 1793 1807 1837">p.value</text>
<text x="1883" y="698">=</text>
<text x="1923" y="698">0</text>
</g>
</svg>
</body>
</html>
